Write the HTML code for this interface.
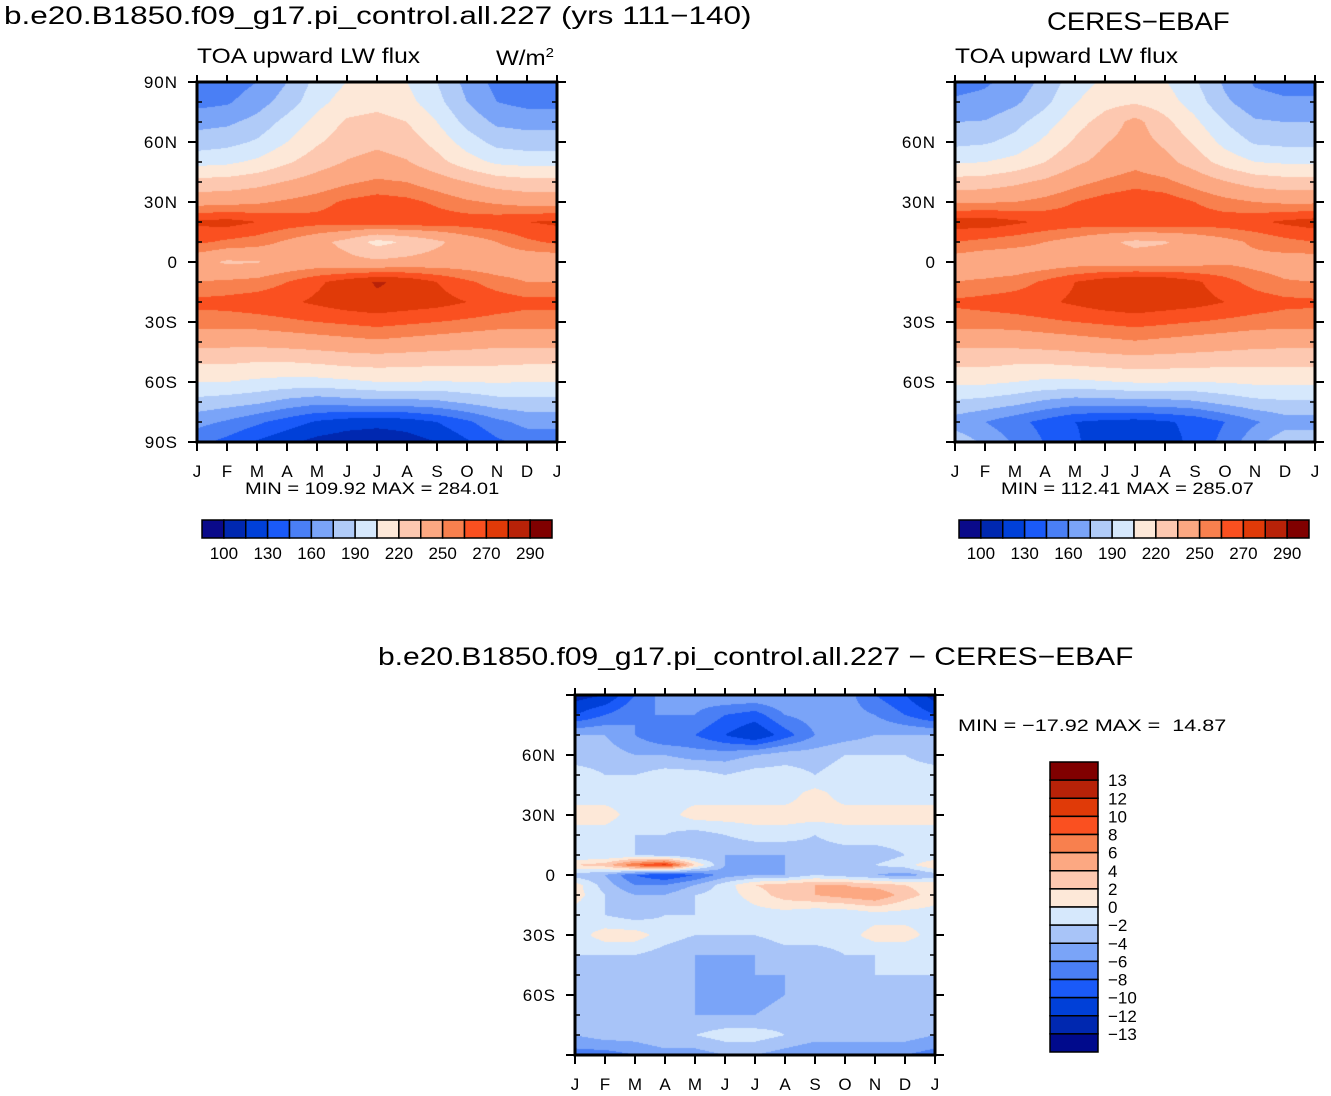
<!DOCTYPE html>
<html><head><meta charset="utf-8">
<style>
body{margin:0;background:#fff;width:1331px;height:1096px;overflow:hidden;position:relative;font-family:"Liberation Sans","DejaVu Sans",sans-serif;}
.t{position:absolute;white-space:nowrap;color:#000;transform-origin:0 0;}
canvas{position:absolute;}
svg{position:absolute;left:0;top:0;}
</style></head><body>
<div class="t" style="left:4px;top:2px;font-size:25px;transform:scaleX(1.26)">b.e20.B1850.f09_g17.pi_control.all.227 (yrs 111−140)</div>
<div class="t" style="left:197px;top:45px;font-size:21px;transform:scaleX(1.17)">TOA upward LW flux</div>
<div class="t" style="left:496px;top:45px;font-size:21px;transform:scaleX(1.15)">W/m<sup style="font-size:13px">2</sup></div>
<div class="t" style="left:1047px;top:8px;font-size:25px;transform:scaleX(1.1)">CERES−EBAF</div>
<div class="t" style="left:955px;top:45px;font-size:21px;transform:scaleX(1.17)">TOA upward LW flux</div>
<div class="t" style="left:245px;top:479px;font-size:17px;transform:scaleX(1.18)">MIN = 109.92 MAX = 284.01</div>
<div class="t" style="left:1001px;top:479px;font-size:17px;transform:scaleX(1.18)">MIN = 112.41 MAX = 285.07</div>
<div class="t" style="left:378px;top:643px;font-size:25px;transform:scaleX(1.2)">b.e20.B1850.f09_g17.pi_control.all.227 − CERES−EBAF</div>
<div class="t" style="left:958px;top:716px;font-size:17px;transform:scaleX(1.27)">MIN = −17.92 MAX = &nbsp;14.87</div>
<canvas id="c1" width="360" height="360" style="left:197px;top:82px"></canvas>
<canvas id="c2" width="360" height="360" style="left:955px;top:82px"></canvas>
<canvas id="c3" width="360" height="360" style="left:575px;top:695px"></canvas>
<svg id="ov" width="1331" height="1096"></svg>
<script>
const months=["J","F","M","A","M","J","J","A","S","O","N","D","J"];
const latsA=[90,80,70,60,50,40,30,20,10,0,-10,-20,-30,-40,-50,-60,-70,-80,-90];
const model=[
[150,152,160,175,195,205,208,205,190,170,155,150,150],
[155,158,168,182,200,212,215,210,195,175,160,155,155],
[170,172,180,195,210,222,225,220,205,185,172,170,170],
[182,185,192,205,218,228,232,228,215,198,185,182,182],
[200,202,208,218,228,236,240,236,225,212,202,200,200],
[225,226,230,236,242,248,252,250,243,235,228,225,225],
[245,246,248,252,256,262,265,263,258,252,248,245,245],
[272,274,270,266,264,266,268,268,266,266,267,270,272],
[262,258,255,248,240,230,215,222,232,242,250,258,262],
[240,233,234,240,242,240,238,240,242,242,240,240,240],
[250,252,254,260,268,275,281,278,270,262,255,250,250],
[263,264,266,268,272,276,278,276,274,270,266,263,263],
[255,255,256,258,260,262,264,262,260,258,256,255,255],
[240,240,240,242,244,246,248,246,244,242,240,240,240],
[222,222,220,220,222,225,226,225,224,224,223,222,222],
[205,205,202,200,200,202,205,205,204,205,206,205,205],
[185,182,178,170,165,168,170,170,172,178,184,185,185],
[165,158,148,138,128,122,120,122,130,142,156,165,165],
[150,140,128,118,110,106,104,108,115,128,142,150,150]];
const ceres=[
[155,158,165,180,198,208,210,206,192,172,158,155,155],
[162,164,172,186,204,215,218,212,198,178,165,162,162],
[175,176,185,198,214,226,240,224,208,190,177,175,175],
[186,188,195,208,222,234,242,232,218,200,188,186,186],
[203,205,210,220,232,240,246,240,228,214,205,203,203],
[226,227,232,238,246,252,256,253,245,236,229,226,226],
[248,249,250,254,260,265,268,266,260,254,250,248,248],
[275,276,272,268,266,267,269,268,266,266,268,272,275],
[260,257,254,250,245,238,232,234,240,246,252,257,260],
[243,240,240,242,244,244,242,243,245,248,246,244,243],
[250,252,255,262,270,276,280,278,272,264,256,251,250],
[262,264,266,268,272,276,278,276,274,270,266,263,262],
[255,255,256,258,260,262,264,262,260,258,256,255,255],
[240,240,241,243,245,247,249,247,245,243,241,240,240],
[224,224,222,222,224,226,228,227,226,225,224,224,224],
[208,208,205,202,202,204,206,206,205,206,208,208,208],
[188,185,180,172,167,168,170,170,173,180,186,188,188],
[168,160,150,140,130,126,124,128,134,145,158,168,168],
[185,172,158,144,132,122,118,124,134,150,170,185,185]];
const latsD=[90,80,70,60,50,40,30,20,10,5,0,-5,-10,-20,-30,-40,-50,-60,-70,-80,-90];
const diff=[
[-13,-12,-8,-5,-5,-4,-4,-4,-4,-5,-8,-10,-13],
[-10,-8,-6,-6,-6,-8,-9,-6,-5,-5,-6,-8,-10],
[-4,-4,-6,-8,-8,-10,-12,-9,-6,-5,-4,-4,-4],
[-3,-3,-4,-4,-5,-5,-4,-3,-3,-2,-2,-2,-3],
[-1,-2,-2,-1,-1,-2,-1,-1,-2,-1,-1,-1,-1],
[-1,-1,-1,-1,-1,-1,-1,-1,1,-1,-1,-1,-1],
[1,1,-1,-1,1,1,1,1,1,1,1,1,1],
[-1,-1,-2,-2,-3,-2,-1,-1,-2,-1,-1,-1,-1],
[-2,-2,-2,-3,-4,-4,-4,-4,-3,-3,-3,-2,-2],
[2,3,8,11,2,-4,-6,-4,-3,-3,-2,-1,2],
[-3,-4,-8,-10,-8,-5,-4,-4,-2,-3,-4,-5,-3],
[1,-3,-6,-6,-4,-1,2,3,4,4,3,2,1],
[1,-2,-4,-4,-2,-1,1,3,4,5,6,3,1],
[-1,-2,-3,-2,-2,-2,-1,-1,-2,-2,-1,-1,-1],
[-1,1,1,-1,-2,-2,-2,-1,-1,-1,1,1,-1],
[-2,-2,-2,-3,-4,-4,-4,-3,-3,-2,-2,-2,-2],
[-2,-3,-3,-4,-4,-5,-4,-4,-3,-3,-2,-2,-2],
[-3,-3,-2,-3,-4,-5,-5,-4,-3,-3,-3,-3,-3],
[-2,-2,-3,-3,-4,-4,-4,-3,-3,-3,-3,-2,-2],
[-4,-3,-3,-2,-2,-1,-1,-2,-3,-3,-3,-3,-4],
[-7,-7,-6,-5,-5,-4,-4,-5,-6,-6,-6,-6,-7]];
const levelsLW=[100,115,130,145,160,175,190,205,220,235,250,260,270,280,290];
const labelsLW=["100","130","160","190","220","250","270","290"];
const levelsD=[-13,-12,-10,-8,-6,-4,-2,0,2,4,6,8,10,12,13];
const labelsD=["13","12","10","8","6","4","2","0","−2","−4","−6","−8","−10","−12","−13"];
const colLW=["#0a0a8a","#0028b0","#0040d8","#1a5af8","#4a7ff5","#7aa4f8","#b0cbf8","#d6e8fc","#fde8d8","#fdc8b0","#fca882","#f8804e","#fa5020","#e03a08","#b82208","#800000"];
const colD=["#000a8c","#0028b0","#0040d8","#1a5af8","#4a7ff5","#7aa4f8","#a8c4f8","#d6e8fc","#fde8d8","#fdc8b0","#fca882","#f8804e","#fa5020","#e03a08","#b82208","#800000"];

function hex(c){return [parseInt(c.slice(1,3),16),parseInt(c.slice(3,5),16),parseInt(c.slice(5,7),16)];}
function render(id,lats,grid,levels,cols){
  const cv=document.getElementById(id),ctx=cv.getContext('2d');
  const W=360,H=360,img=ctx.createImageData(W,H),rgb=cols.map(hex);
  for(let py=0;py<H;py++){
    const lat=90-(py+0.5)/H*180;
    let r=0;while(r<lats.length-2&&lats[r+1]>lat)r++;
    const fy=(lats[r]-lat)/(lats[r]-lats[r+1]);
    for(let px=0;px<W;px++){
      const m=(px+0.5)/W*12,c=Math.min(11,Math.floor(m)),fx=m-c;
      const v=(grid[r][c]*(1-fx)+grid[r][c+1]*fx)*(1-fy)+(grid[r+1][c]*(1-fx)+grid[r+1][c+1]*fx)*fy;
      let k=0;while(k<levels.length&&v>=levels[k])k++;
      const o=(py*W+px)*4,cc=rgb[k];
      img.data[o]=cc[0];img.data[o+1]=cc[1];img.data[o+2]=cc[2];img.data[o+3]=255;
    }
  }
  ctx.putImageData(img,0,0);
}
render('c1',latsA,model,levelsLW,colLW);
render('c2',latsA,ceres,levelsLW,colLW);
render('c3',latsD,diff,levelsD,colD);

const NS="http://www.w3.org/2000/svg",ov=document.getElementById('ov');
function el(tag,attrs,txt){const e=document.createElementNS(NS,tag);for(const k in attrs)e.setAttribute(k,attrs[k]);if(txt!==undefined)e.textContent=txt;ov.appendChild(e);return e;}
const FF='Liberation Sans, sans-serif';
function axes(x0,y0,latLabels,pfx){
  const sz=360,xs=m=>x0+m/12*sz,ys=l=>y0+(90-l)/180*sz;
  for(let i=0;i<13;i++){
    const t=el('line',{x1:xs(i),x2:xs(i),y1:y0+sz,y2:y0+sz+9,stroke:'#000','stroke-width':2});
    
    
    el('line',{x1:xs(i),x2:xs(i),y1:y0,y2:y0-7,stroke:'#000','stroke-width':2});
    const lb=el('text',{x:xs(i),y:y0+sz+35,'text-anchor':'middle','font-size':17,'font-family':FF},months[i]);
    
    
  }
  for(let l=-90;l<=90;l+=10){
    const maj=l%30===0,y=ys(l);
    if(maj){el('line',{x1:x0-9,x2:x0,y1:y,y2:y,stroke:'#000','stroke-width':2});el('line',{x1:x0+sz,x2:x0+sz+9,y1:y,y2:y,stroke:'#000','stroke-width':2});}
    else{el('line',{x1:x0,x2:x0+5,y1:y,y2:y,stroke:'#000','stroke-width':1.5});el('line',{x1:x0+sz-5,x2:x0+sz,y1:y,y2:y,stroke:'#000','stroke-width':1.5});}
  }
  latLabels.forEach(l=>{
    const s=l===0?'0':(Math.abs(l)+(l>0?'N':'S'));
    const lb=el('text',{x:x0-19,y:ys(l)+6,'text-anchor':'end','font-size':17,'letter-spacing':1,'font-family':FF},s);
    
    
  });
  const f=el('rect',{x:x0,y:y0,width:sz,height:sz,fill:'none',stroke:'#000','stroke-width':3});
  
  
}
axes(197,82,[90,60,30,0,-30,-60,-90],'panel1');
axes(955,82,[60,30,0,-30,-60],'panel2');
axes(575,695,[60,30,0,-30,-60],'diff');

function hbar(x0,y0,pfx){
  const w=350/16;
  colLW.forEach((c,i)=>{
    const r=el('rect',{x:x0+i*w,y:y0,width:w,height:18,fill:c,stroke:'#000','stroke-width':1.5});
    
    
  });
  labelsLW.forEach((s,j)=>{
    const t=el('text',{x:x0+(2*j+1)*w,y:y0+39,'text-anchor':'middle','font-size':17,'font-family':FF},s);
    
    
  });
}
hbar(202,520,'panel1');
hbar(959,520,'panel2');
const h=290/16;
for(let i=0;i<16;i++){
  const r=el('rect',{x:1050,y:762+i*h,width:48,height:h,fill:colD[15-i],stroke:'#000','stroke-width':1.5});
  
  
}
labelsD.forEach((s,j)=>{
  const t=el('text',{x:1108,y:762+(j+1)*h+6,'font-size':17,'font-family':FF},s);
  
  
});
</script>
</body></html>
